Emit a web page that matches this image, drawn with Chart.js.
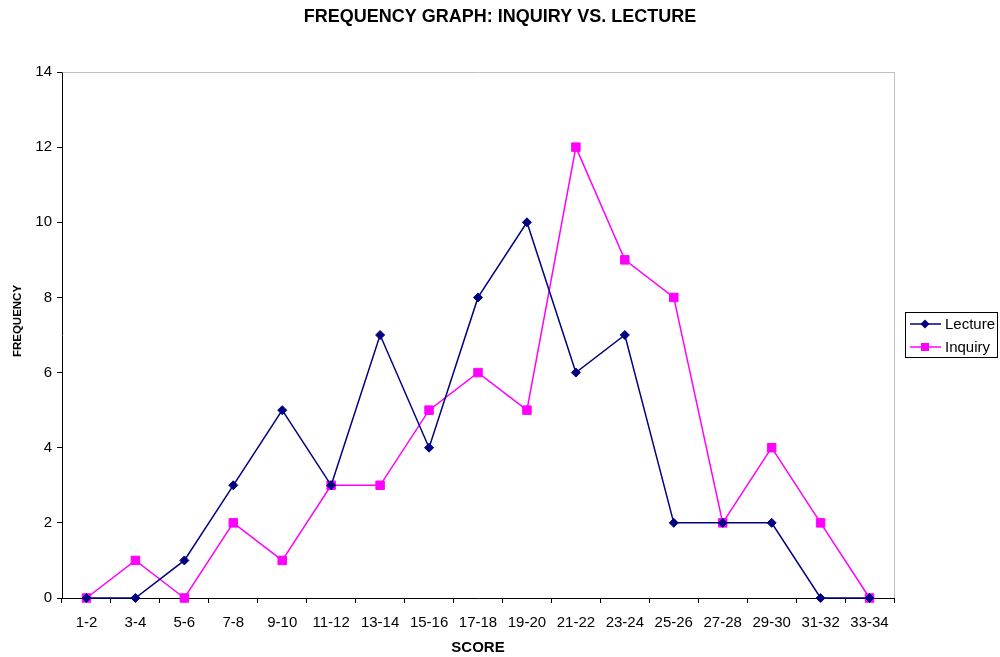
<!DOCTYPE html>
<html><head><meta charset="utf-8">
<script src="https://cdn.jsdelivr.net/npm/chart.js@4/dist/chart.umd.min.js"></script>
<style>html,body{margin:0;padding:0;background:#fff}#wrap{width:1000px;height:657px;position:relative}</style>
</head><body><div id="wrap"><canvas id="c" width="1000" height="657"></canvas></div>
<script>
const categories = ["1-2","3-4","5-6","7-8","9-10","11-12","13-14","15-16","17-18","19-20","21-22","23-24","25-26","27-28","29-30","31-32","33-34"];
const lecture = [0,0,1,3,5,3,7,4,8,10,6,7,2,2,2,0,0];
const inquiry = [0,1,0,2,1,3,3,5,6,5,12,9,8,2,4,2,0];
const yTicks = [0,2,4,6,8,10,12,14];
const chartTitle = 'FREQUENCY GRAPH: INQUIRY VS. LECTURE';
const yTitle = 'FREQUENCY';
const xTitle = 'SCORE';

const FONT = "Arial, 'Liberation Sans', sans-serif";

const extras = {
  id: 'extras',
  afterDraw(chart) {
    const ctx = chart.ctx, a = chart.chartArea;
    ctx.save();
    ctx.strokeStyle = '#c0c0c0'; ctx.lineWidth = 1;
    ctx.beginPath();
    ctx.moveTo(a.left + 0.5, Math.round(a.top) + 0.5);
    ctx.lineTo(Math.round(a.right) + 0.5, Math.round(a.top) + 0.5);
    ctx.lineTo(Math.round(a.right) + 0.5, a.bottom);
    ctx.stroke();
    ctx.fillStyle = '#000';
    ctx.font = "bold 18px " + FONT; ctx.textAlign = 'center'; ctx.textBaseline = 'middle';
    ctx.fillText(chartTitle, 500, 17);
    ctx.save();
    ctx.translate(18, 321); ctx.rotate(-Math.PI / 2);
    ctx.font = "bold 11.5px " + FONT;
    ctx.fillText(yTitle, 0, 0);
    ctx.restore();
    const lx = 905, ly = 312, lw = 92, lh = 45;
    ctx.strokeStyle = '#000'; ctx.lineWidth = 1;
    ctx.strokeRect(lx + 0.5, ly + 0.5, lw, lh);
    ctx.font = "15px " + FONT; ctx.textAlign = 'left'; ctx.textBaseline = 'middle';
    chart.data.datasets.forEach((ds, i) => {
      const y = ly + 12 + i * 23;
      ctx.strokeStyle = ds.borderColor; ctx.lineWidth = 1.5;
      ctx.beginPath(); ctx.moveTo(lx + 5, y); ctx.lineTo(lx + 36, y); ctx.stroke();
      ctx.fillStyle = ds.pointBackgroundColor;
      const cx = lx + 20;
      if (ds.pointStyle === 'rectRot') {
        ctx.beginPath(); ctx.moveTo(cx, y - 4.5); ctx.lineTo(cx + 4.5, y); ctx.lineTo(cx, y + 4.5); ctx.lineTo(cx - 4.5, y); ctx.closePath(); ctx.fill();
      } else {
        ctx.fillRect(cx - 4, y - 4, 8, 8);
      }
      ctx.fillStyle = '#000';
      ctx.fillText(ds.label, lx + 40, y + 1);
    });
    ctx.restore();
  }
};

new Chart(document.getElementById('c'), {
  type: 'line',
  data: {
    labels: categories,
    datasets: [
      { label: 'Lecture', data: lecture, borderColor: '#000080', backgroundColor: '#000080',
        pointBackgroundColor: '#000080', pointBorderColor: '#000080', pointStyle: 'rectRot',
        pointRadius: 4.5, pointBorderWidth: 1, borderWidth: 1.5, tension: 0, fill: false, clip: false },
      { label: 'Inquiry', data: inquiry, borderColor: '#FF00FF', backgroundColor: '#FF00FF',
        pointBackgroundColor: '#FF00FF', pointBorderColor: '#FF00FF', pointStyle: 'rect',
        pointRadius: 6, pointBorderWidth: 1, borderWidth: 1.5, tension: 0, fill: false, clip: false }
    ]
  },
  options: {
    responsive: false, animation: false,
    layout: { padding: { left: 0, right: 106, top: 72, bottom: 0 } },
    plugins: {
      legend: { display: false },
      tooltip: { enabled: false },
      title: { display: false }
    },
    scales: {
      x: {
        offset: true,
        afterFit(axis) { axis.height = 59; },
        grid: { offset: true, drawOnChartArea: false, drawTicks: true, tickLength: 5, color: '#000' },
        border: { color: '#000', width: 1 },
        ticks: { color: '#000', font: { family: FONT, size: 15 }, padding: 11, maxRotation: 0, autoSkip: false },
        title: { display: true, text: xTitle, color: '#000', font: { family: FONT, size: 15, weight: 'bold' }, padding: { top: 0, bottom: 0 } }
      },
      y: {
        min: 0, max: 14,
        afterFit(axis) { axis.width = 62; },
        afterBuildTicks(axis) { axis.ticks = yTicks.map(v => ({ value: v })); },
        grid: { drawOnChartArea: false, drawTicks: true, tickLength: 5, color: '#000' },
        border: { color: '#000', width: 1 },
        ticks: { color: '#000', font: { family: FONT, size: 15 }, padding: 5 },
        title: { display: false }
      }
    }
  },
  plugins: [extras]
});
</script></body></html>
